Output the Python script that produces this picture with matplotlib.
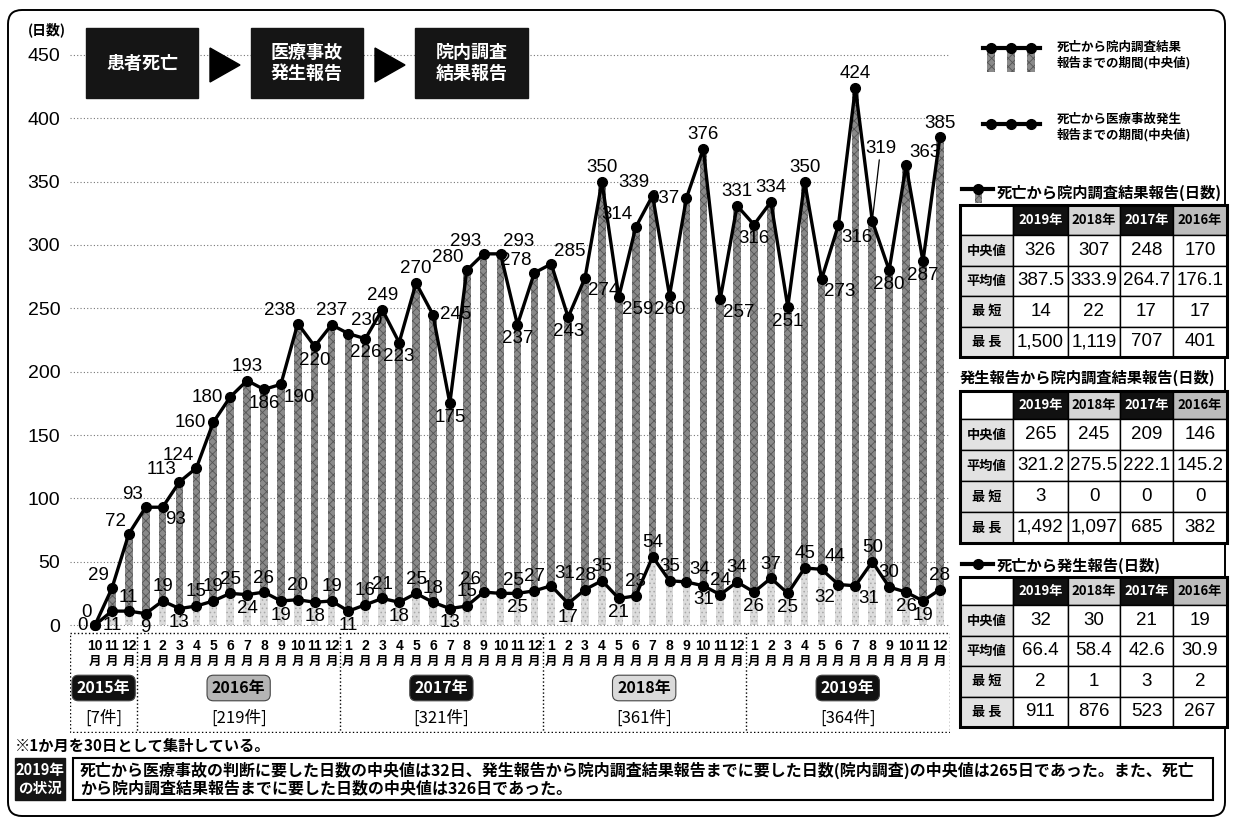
import matplotlib.pyplot as plt
from matplotlib.patches import Rectangle, FancyBboxPatch, Polygon

plt.rcParams['font.family'] = ['Noto Sans CJK JP', 'DejaVu Sans']
plt.rcParams['hatch.linewidth'] = 0.6
NUM = ['Liberation Sans Narrow', 'Liberation Sans', 'DejaVu Sans']

# ---- data ----
month_labels = ['10', '11', '12'] + [str(m) for m in range(1, 13)] * 4
year_names = ['2015年', '2016年', '2017年', '2018年', '2019年']
year_cases = ['[7件]', '[219件]', '[321件]', '[361件]', '[364件]']
year_months = [3, 12, 12, 12, 12]

# 死亡から院内調査結果報告までの期間(中央値)
days_to_result = [0, 29, 72, 93, 93, 113, 124, 160, 180, 193, 186, 190, 238, 220, 237,
                  230, 226, 249, 223, 270, 245, 175, 280, 293, 293, 237, 278,
                  285, 243, 274, 350, 259, 314, 339, 260, 337, 376, 257, 331,
                  316, 334, 251, 350, 273, 316, 424, 319, 280, 363, 287, 385]
# 死亡から医療事故発生報告までの期間(中央値)
days_to_report = [0, 11, 11, 9, 19, 13, 15, 19, 25, 24, 26, 19, 20, 18, 19,
                  11, 16, 21, 18, 25, 18, 13, 15, 26, 25, 25, 27,
                  31, 17, 28, 35, 21, 23, 54, 35, 34, 31, 24, 34,
                  26, 37, 25, 45, 44, 32, 31, 50, 30, 26, 19, 28]

table_cols = ['2019年', '2018年', '2017年', '2016年']
row_names = ['中央値', '平均値', '最 短', '最 長']
result_stats = [['326', '307', '248', '170'],
                ['387.5', '333.9', '264.7', '176.1'],
                ['14', '22', '17', '17'],
                ['1,500', '1,119', '707', '401']]
investigation_stats = [['265', '245', '209', '146'],
                       ['321.2', '275.5', '222.1', '145.2'],
                       ['3', '0', '0', '0'],
                       ['1,492', '1,097', '685', '382']]
report_stats = [['32', '30', '21', '19'],
                ['66.4', '58.4', '42.6', '30.9'],
                ['2', '1', '3', '2'],
                ['911', '876', '523', '267']]

# label placement per point
top_pos = ['al', 'al', 'al', 'al', 'br', 'al', 'al', 'l', 'l', 'a', 'b', 'br', 'al', 'b', 'a',
           'ar', 'b', 'a', 'b', 'a', 'r', 'b', 'al', 'al', 'ar', 'b', 'al',
           'ar', 'b', 'br', 'a', 'br', 'al', 'al', 'b', 'l', 'a', 'br', 'a',
           'b', 'a', 'b', 'a', 'br', 'br', 'a', 'lead', 'b', 'ar', 'b', 'a']
bot_pos = ('l b a b a b a a a b a b a b a b a a b a a b a al ar b a ar b a a b a a a ar '
           'b a a b a b a ar bl br a a b b a').split()

OFF = {'a': (0, 4, 'center', 'bottom'), 'b': (0, -4, 'center', 'top'),
       'l': (-5, 0, 'right', 'center'), 'r': (5, 0, 'left', 'center'),
       'al': (-2, 3, 'right', 'bottom'), 'ar': (2, 3, 'left', 'bottom'),
       'br': (2, -3, 'left', 'top'), 'bl': (-2, -3, 'right', 'top')}

W, H = 1233, 833
fig = plt.figure(figsize=(W / 100, H / 100), dpi=100)

x = list(range(len(days_to_result)))
xlim = (-1.48, 50.6)

ax = fig.add_axes([70 / W, 1 - 631 / H, 880 / W, 591 / H])
ax.set_xlim(*xlim)
ax.set_ylim(-4.7, 461.8)
ax.set_yticks(range(0, 451, 50))
ax.set_xticks([])
ax.tick_params(axis='y', length=0, pad=7, labelsize=14)
for lab in ax.get_yticklabels():
    lab.set_family(NUM)
for s in ax.spines.values():
    s.set_visible(False)
ax.yaxis.grid(True, linestyle=(0, (1, 2)), color='#777777', lw=0.8)
ax.set_axisbelow(True)

ax.bar(x, days_to_result, width=0.45, color='#8a8a8a', hatch='xxxx', edgecolor='#555555', lw=0, zorder=2)
ax.bar(x, days_to_report, width=0.45, color='#dcdcdc', hatch='....', edgecolor='#a8a8a8', lw=0, zorder=2.5)
ax.plot(x, days_to_result, color='black', lw=2.4, marker='o', ms=7, zorder=4, clip_on=False)
ax.plot(x, days_to_report, color='black', lw=2.4, marker='o', ms=7, zorder=4, clip_on=False)

LBL = 13.5
for i, (v, p) in enumerate(zip(days_to_result, top_pos)):
    if p == 'lead':
        ax.annotate(str(v), (i, v), xytext=(6, 46), textcoords='offset points', ha='center',
                    va='bottom', fontsize=LBL, family=NUM, zorder=6,
                    arrowprops=dict(arrowstyle='-', lw=0.9, color='black', shrinkA=0, shrinkB=4))
        continue
    dx, dy, ha, va = OFF[p]
    ax.annotate(str(v), (i, v), xytext=(dx, dy), textcoords='offset points', ha=ha, va=va,
                fontsize=LBL, family=NUM, zorder=6)
for i, (v, p) in enumerate(zip(days_to_report, bot_pos)):
    dx, dy, ha, va = OFF[p]
    ax.annotate(str(v), (i, v), xytext=(dx, dy), textcoords='offset points', ha=ha, va=va,
                fontsize=LBL, family=NUM, zorder=6)

# ---- month / year labels under the chart ----
axb = fig.add_axes([70 / W, 1 - 733 / H, 880 / W, 101 / H])
axb.set_xlim(*xlim)
axb.set_ylim(101, 0)
axb.axis('off')
axb.add_patch(Rectangle((xlim[0], 1), xlim[1] - xlim[0], 99, fill=False, ec='black', lw=1, ls=':'))
for i, m in enumerate(month_labels):
    axb.text(i, 14, m, ha='center', va='center', fontsize=10, fontweight='bold', family=NUM)
    axb.text(i, 29, '月', ha='center', va='center', fontsize=9, fontweight='bold')
tag_style = [('#111111', 'white'), ('#b5b5b5', 'black'), ('#111111', 'white'),
             ('#dadada', 'black'), ('#111111', 'white')]
edge = -0.5
for k, (name, cases, n) in enumerate(zip(year_names, year_cases, year_months)):
    lo = xlim[0] if k == 0 else edge
    hi = edge + n
    if k < len(year_names) - 1:
        axb.plot([hi, hi], [1, 100], color='black', lw=1, ls=':')
    else:
        hi = xlim[1]
    c = (lo + hi) / 2
    fc, tc = tag_style[k]
    axb.text(c, 56, name, ha='center', va='center', fontsize=11.5, fontweight='bold', color=tc,
             bbox=dict(boxstyle='round,pad=0.3,rounding_size=0.4', fc=fc, ec='#444444', lw=0.8))
    axb.text(c, 86, cases, ha='center', va='center', fontsize=12)
    edge += n

# ---- overlay: boxes, legend, tables, notes ----
ov = fig.add_axes([0, 0, 1, 1], zorder=5)
ov.set_xlim(0, W)
ov.set_ylim(H, 0)
ov.axis('off')

ov.add_patch(FancyBboxPatch((8, 10), 1217, 806, boxstyle='round,pad=0,rounding_size=14',
                            fill=False, lw=1.4, ec='black'))
ov.text(47, 30, '(日数)', ha='center', va='center', fontsize=10, fontweight='bold')

for x0, w, txt in [(86, 112, '患者死亡'), (251, 112, '医療事故\n発生報告'), (415, 113, '院内調査\n結果報告')]:
    ov.add_patch(Rectangle((x0, 28), w, 70, fc='#151515', ec='#151515'))
    ov.text(x0 + w / 2, 63, txt, color='white', fontsize=13, fontweight='bold',
            ha='center', va='center', linespacing=1.15)
for ax0 in (210, 375):
    ov.add_patch(Polygon([(ax0, 48), (ax0, 82), (ax0 + 30, 65)], closed=True, fc='black', ec='black'))

# legend
for bx in (991, 1011, 1031):
    ov.add_patch(Rectangle((bx - 4, 50), 8, 22, fc='#8a8a8a', hatch='xxxx', ec='#555555', lw=0))
ov.plot([983, 1040], [48, 48], color='black', lw=3)
ov.plot([991, 1011, 1031], [48, 48, 48], 'o', color='black', ms=7)
ov.text(1057, 55, '死亡から院内調査結果\n報告までの期間(中央値)', fontsize=9, fontweight='bold',
        va='center', linespacing=1.15)
ov.plot([983, 1040], [124, 124], color='black', lw=3)
ov.plot([991, 1011, 1031], [124, 124, 124], 'o', color='black', ms=7)
ov.text(1057, 127, '死亡から医療事故発生\n報告までの期間(中央値)', fontsize=9, fontweight='bold',
        va='center', linespacing=1.15)

head_style = [('#111111', 'white'), ('#d4d4d4', 'black'), ('#111111', 'white'), ('#bcbcbc', 'black')]


def draw_table(top, head_h, row_h, stats):
    xs = [960, 1013, 1068, 1120, 1173, 1227]
    ov.add_patch(Rectangle((xs[0], top), xs[1] - xs[0], head_h, fc='white', ec='black', lw=1))
    for j, name in enumerate(table_cols):
        fc, tc = head_style[j]
        ov.add_patch(Rectangle((xs[j + 1], top), xs[j + 2] - xs[j + 1], head_h, fc=fc, ec='black', lw=1))
        ov.text((xs[j + 1] + xs[j + 2]) / 2, top + head_h / 2, name, color=tc, fontsize=9.5,
                fontweight='bold', ha='center', va='center')
    for r, (rn, vals) in enumerate(zip(row_names, stats)):
        y = top + head_h + r * row_h
        ov.add_patch(Rectangle((xs[0], y), xs[1] - xs[0], row_h, fc='#e2e2e2', ec='black', lw=1))
        ov.text((xs[0] + xs[1]) / 2, y + row_h / 2, rn, fontsize=9.5, fontweight='bold',
                ha='center', va='center')
        for j, v in enumerate(vals):
            ov.add_patch(Rectangle((xs[j + 1], y), xs[j + 2] - xs[j + 1], row_h, fc='white', ec='black', lw=1))
            ov.text((xs[j + 1] + xs[j + 2]) / 2, y + row_h / 2, v, fontsize=13.5, family=NUM,
                    ha='center', va='center')
    ov.add_patch(Rectangle((xs[0], top), xs[-1] - xs[0], head_h + 4 * row_h, fill=False, ec='black', lw=2.2))


# table 1
ov.add_patch(Rectangle((975, 190), 7, 13, fc='#8a8a8a', hatch='xxxx', ec='#555555', lw=0))
ov.plot([962, 993], [189, 189], color='black', lw=3)
ov.plot([978], [189], 'o', color='black', ms=7)
ov.text(997, 193, '死亡から院内調査結果報告(日数)', fontsize=11, fontweight='bold', va='center')
draw_table(205, 30, 30.5, result_stats)
# table 2
ov.text(960, 378, '発生報告から院内調査結果報告(日数)', fontsize=11, fontweight='bold', va='center')
draw_table(391, 28, 31, investigation_stats)
# table 3
ov.plot([962, 993], [564, 564], color='black', lw=3)
ov.plot([978], [564], 'o', color='black', ms=7)
ov.text(997, 566, '死亡から発生報告(日数)', fontsize=11, fontweight='bold', va='center')
draw_table(577, 28, 30.5, report_stats)

# notes
ov.text(15, 746, '※1か月を30日として集計している。', fontsize=11, fontweight='bold', va='center')
ov.add_patch(Rectangle((15, 758), 50, 42, fc='#151515', ec='#151515'))
ov.text(40, 779, '2019年\nの状況', color='white', fontsize=10.5, fontweight='bold',
        ha='center', va='center', linespacing=1.1)
ov.add_patch(Rectangle((73, 758), 1140, 42, fill=False, ec='black', lw=1.5))
ov.text(80, 779, '死亡から医療事故の判断に要した日数の中央値は32日、発生報告から院内調査結果報告までに要した日数'
        '(院内調査)の中央値は265日であった。また、死亡\nから院内調査結果報告までに要した日数の中央値は326日であった。',
        fontsize=11.5, fontweight='bold', va='center', linespacing=1.1)

fig.savefig('out.png', dpi=100)
